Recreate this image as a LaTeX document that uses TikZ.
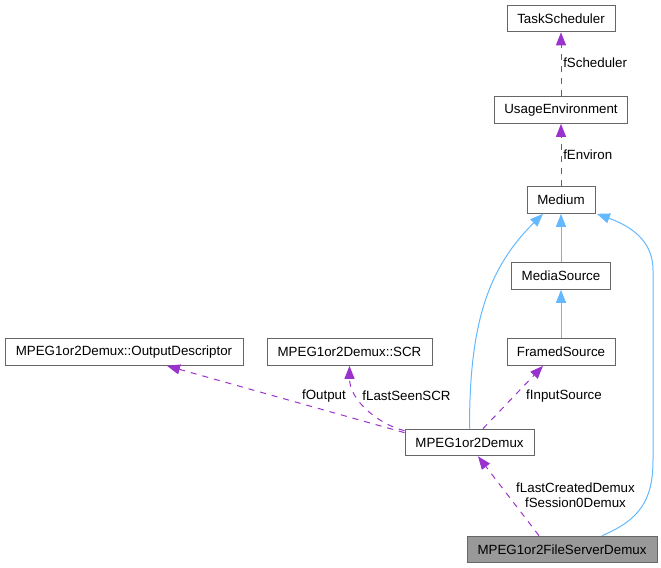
\documentclass[tikz,border=0pt]{standalone}
\usepackage{fontspec}
\setmainfont{Liberation Sans}
\usetikzlibrary{arrows.meta,calc}
\definecolor{usecol}{HTML}{9A32CD}
\definecolor{inhcol}{HTML}{63B8FF}
\definecolor{boxcol}{HTML}{666666}
\definecolor{mainfill}{HTML}{999999}
\begin{document}
\begin{tikzpicture}[x=0.75pt,y=-0.75pt,
  cls/.style={draw=boxcol, line width=0.75pt, minimum height=20pt, inner sep=0pt,
              font=\fontsize{10}{12}\selectfont},
  uses/.style={draw=usecol, line width=0.75pt, dash pattern=on 4.5pt off 4.5pt,
               -{Triangle[length=9.75pt,width=7.5pt]}},
  inherits/.style={draw=inhcol, line width=0.75pt,
               -{Triangle[length=9.75pt,width=7.5pt]}},
  lbl/.style={font=\fontsize{10}{11.4}\selectfont, inner sep=0pt, align=center}
]
\path[use as bounding box] (0,0) rectangle (661,568);

% classes
\node[cls, minimum width=81pt]    (TS)    at (561,18.5)  {TaskScheduler};
\node[cls, minimum width=99.75pt] (UE)    at (561,110)   {UsageEnvironment};
\node[cls, minimum width=51pt]    (Med)   at (561,200)   {Medium};
\node[cls, minimum width=74.25pt] (MS)    at (561,276)   {MediaSource};
\node[cls, minimum width=81pt]    (FS)    at (561,352)   {FramedSource};
\node[cls, minimum width=178.5pt] (OD)    at (124,352)   {MPEG1or2Demux::OutputDescriptor};
\node[cls, minimum width=123.75pt](SCR)   at (349.5,352) {MPEG1or2Demux::SCR};
\node[cls, minimum width=96.75pt] (Demux) at (469.5,442.5) {MPEG1or2Demux};
\node[cls, minimum width=142.5pt, fill=mainfill] (FSD) at (562,549.5) {MPEG1or2FileServerDemux};

% usage relations
\draw[uses] (UE.north) -- (TS.south);
\draw[uses] (Med.north) -- (UE.south);
\draw[uses] ([xshift=10.1pt]Demux.north) -- ([xshift=-13.5pt]FS.south);
\draw[uses] ([yshift=-1.5pt]Demux.north west) .. controls +(-25,-6) and +(0,35) .. (SCR.south);
\draw[uses] ([yshift=-3pt]Demux.north west) -- ([xshift=32.25pt]OD.south);
\draw[uses] ([xshift=-17.25pt]FSD.north) -- ([xshift=6.4pt]Demux.south);

% inheritance
\draw[inherits] (MS.north) -- (Med.south);
\draw[inherits] (FS.north) -- (MS.south);
\draw[inherits] (Demux.north) .. controls +(0,-99) and +(-58,57) .. ([xshift=-13.5pt]Med.south);
\coordinate (r1) at (653,460);
\coordinate (r2) at (653,270);
\draw[inherits] ([xshift=30pt]FSD.north) .. controls +(38,-16) and +(0,40) .. (r1)
  -- (r2) .. controls +(0,-30) and +(33,12) .. ([xshift=1pt]Med.south east);

% labels
\node[lbl, anchor=west] (lSch) at (563,63)  {fScheduler};
\node[lbl, anchor=west] (lEnv) at (563,155) {fEnviron};
\node[lbl] (lIn)  at (564,396) {fInputSource};
\node[lbl] (lSCR) at (406.5,396) {fLastSeenSCR};
\node[lbl] (lOut) at (324,396) {fOutput};
\node[lbl] (lDem) at (575.5,495.5) {fLastCreatedDemux\\fSession0Demux};
\end{tikzpicture}
\end{document}
